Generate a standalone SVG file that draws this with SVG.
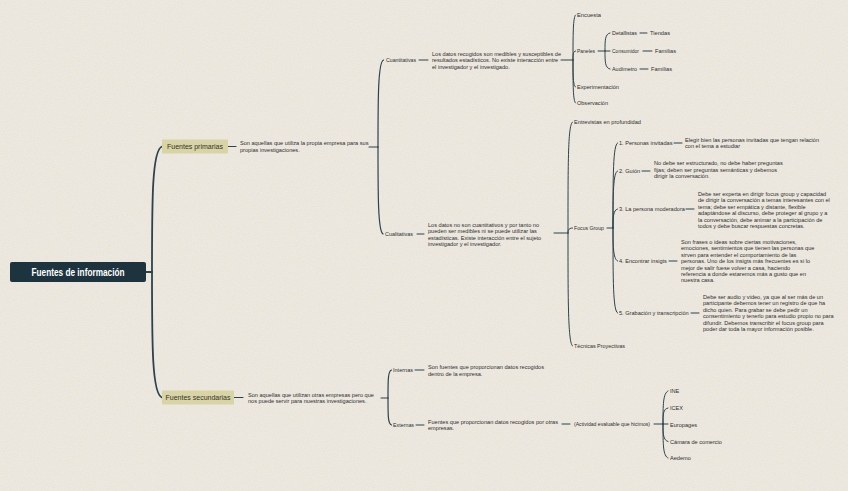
<svg xmlns="http://www.w3.org/2000/svg" width="848" height="491" viewBox="0 0 848 491">
<defs>
<filter id="paper" x="0" y="0" width="100%" height="100%">
<feTurbulence type="fractalNoise" baseFrequency="0.8" numOctaves="3" seed="7" result="n"/>
<feColorMatrix in="n" type="matrix" values="0 0 0 0 0.45  0 0 0 0 0.40  0 0 0 0 0.32  0.16 0 0 0 -0.02"/>
</filter>
<style>
.c{fill:none;stroke:#2c434d;stroke-linecap:round;stroke-width:1}
.c1{stroke-width:1.8}
.c2{stroke-width:1.2}
.t{font-family:"Liberation Sans",Arial,sans-serif;font-size:5.6px;fill:#2e2e2e}
.lab{font-family:"Liberation Sans",Arial,sans-serif;font-size:7px;fill:#33332a;text-anchor:middle}
.box{fill:#d9d4a6}
</style>
</defs>
<rect width="848" height="491" fill="#efebe2"/>
<rect width="848" height="491" filter="url(#paper)"/>

<g id="connectors">
<path class="c c1" d="M145 272 H152"/>
<path class="c c1" d="M152 272 C152 200 152 150 162 146.5"/>
<path class="c c1" d="M152 272 C152 345 152 394 162 397.5"/>
<path class="c c2" d="M228 146.5 H236"/>
<path class="c c2" d="M234 397.5 H243"/>
<path class="c c2" d="M369 147 H378"/>
<path class="c c2" d="M378 147 C378 100 378 62 383.5 60"/>
<path class="c c2" d="M378 147 C378 195 378 231 383 234"/>
<path class="c c2" d="M381 398 H388"/>
<path class="c c2" d="M388 398 C388 380 388 371 391.5 370"/>
<path class="c c2" d="M388 398 C388 416 388 424 391.5 425"/>
<path class="c" d="M419 60 H428"/>
<path class="c" d="M561 60 H573"/>
<path class="c" d="M573 60 C573 35 573 17 575.5 15"/>
<path class="c" d="M573 60 C573 55 573 51 575.5 51"/>
<path class="c" d="M573 60 C573 75 573 86 575.5 87"/>
<path class="c" d="M573 60 C573 85 573 101 575.5 103"/>
<path class="c" d="M598 51 H605"/>
<path class="c" d="M605 51 C605 40 605 34 610 33"/>
<path class="c" d="M605 51 H610"/>
<path class="c" d="M605 51 C605 62 605 68 610 69"/>
<path class="c" d="M640 33 H647"/>
<path class="c" d="M643 51 H652"/>
<path class="c" d="M640 69 H648"/>
<path class="c" d="M417 234 H424"/>
<path class="c" d="M554 233 H568"/>
<path class="c" d="M568 233 C568 160 568 124 572.5 122"/>
<path class="c" d="M568 233 C568 231 568 228 572.5 228"/>
<path class="c" d="M568 233 C568 300 568 344 572.5 346"/>
<path class="c" d="M607 228 H613"/>
<path class="c" d="M613 228 C613 175 613 145 617.5 143"/>
<path class="c" d="M613 228 C613 195 613 172 617.5 171"/>
<path class="c" d="M613 228 C613 218 613 210 617.5 209"/>
<path class="c" d="M613 228 C613 245 613 259 617.5 261"/>
<path class="c" d="M613 228 C613 280 613 311 617.5 313"/>
<path class="c" d="M674 143 H682"/>
<path class="c" d="M642 171 H650"/>
<path class="c" d="M686 209 H694"/>
<path class="c" d="M669 261 H677"/>
<path class="c" d="M691 313 H699"/>
<path class="c" d="M415 370 H424"/>
<path class="c" d="M416 425 H424"/>
<path class="c" d="M562 424 H570"/>
<path class="c" d="M654 424 H663"/>
<path class="c" d="M663 424 C663 405 663 393 668 391"/>
<path class="c" d="M663 424 C663 414 663 409 668 408"/>
<path class="c" d="M663 424 H668"/>
<path class="c" d="M663 424 C663 434 663 440 668 441.5"/>
<path class="c" d="M663 424 C663 445 663 456 668 458"/>
</g>

<g id="root">
<rect x="10" y="262" width="136" height="20" rx="2" fill="#1d333d"/>
<text x="78" y="275.5" text-anchor="middle" font-family="Liberation Sans,Arial,sans-serif" font-weight="bold" font-size="10" fill="#ffffff" textLength="93" lengthAdjust="spacingAndGlyphs">Fuentes de información</text>
</g>

<g id="primarias">
<rect class="box" x="162" y="139.5" width="66" height="14" rx="1"/>
<text class="lab" x="195" y="149">Fuentes primarias</text>
</g>
<g id="primarias-desc">
<text class="t" x="240" y="145">Son aquellas que utiliza la propia empresa para sus</text>
<text class="t" x="240" y="151.5">propias investigaciones.</text>
</g>

<g id="cuantitativas"><text class="t" x="386" y="62" textLength="30" lengthAdjust="spacingAndGlyphs">Cuantitativas</text></g>
<g id="cuantitativas-desc">
<text class="t" x="432" y="55.5">Los datos recogidos son medibles y susceptibles de</text>
<text class="t" x="432" y="62">resultados estadísticos. No existe interacción entre</text>
<text class="t" x="432" y="68.5">el investigador y el investigado.</text>
</g>
<g id="encuesta"><text class="t" x="577" y="17" textLength="24" lengthAdjust="spacingAndGlyphs">Encuesta</text></g>
<g id="paneles"><text class="t" x="577" y="53" textLength="18" lengthAdjust="spacingAndGlyphs">Paneles</text></g>
<g id="detallistas"><text class="t" x="612" y="35" textLength="25" lengthAdjust="spacingAndGlyphs">Detallistas</text></g>
<g id="tiendas"><text class="t" x="650" y="35" textLength="20" lengthAdjust="spacingAndGlyphs">Tiendas</text></g>
<g id="consumidor"><text class="t" x="612" y="53" textLength="27" lengthAdjust="spacingAndGlyphs">Consumidor</text></g>
<g id="familias1"><text class="t" x="655" y="53" textLength="21" lengthAdjust="spacingAndGlyphs">Familias</text></g>
<g id="audimetro"><text class="t" x="612" y="71" textLength="25" lengthAdjust="spacingAndGlyphs">Audímetro</text></g>
<g id="familias2"><text class="t" x="651" y="71" textLength="21" lengthAdjust="spacingAndGlyphs">Familias</text></g>
<g id="experimentacion"><text class="t" x="577" y="89" textLength="42" lengthAdjust="spacingAndGlyphs">Experimentación</text></g>
<g id="observacion"><text class="t" x="577" y="105" textLength="31" lengthAdjust="spacingAndGlyphs">Observación</text></g>

<g id="cualitativas"><text class="t" x="385" y="236" textLength="28" lengthAdjust="spacingAndGlyphs">Cualitativas</text></g>
<g id="cualitativas-desc">
<text class="t" x="428" y="226.5">Los datos no son cuantitativos y por tanto no</text>
<text class="t" x="428" y="233">pueden ser medibles ni se puede utilizar las</text>
<text class="t" x="428" y="239.5">estadísticas. Existe interacción entre el sujeto</text>
<text class="t" x="428" y="246">investigador y el investigador.</text>
</g>
<g id="entrevistas"><text class="t" x="574" y="124" textLength="67" lengthAdjust="spacingAndGlyphs">Entrevistas en profundidad</text></g>
<g id="focus"><text class="t" x="574" y="230" textLength="30" lengthAdjust="spacingAndGlyphs">Focus Group</text></g>
<g id="tecnicas"><text class="t" x="574" y="348" textLength="51" lengthAdjust="spacingAndGlyphs">Técnicas Proyectivas</text></g>

<g id="fg1"><text class="t" x="619" y="145">1. Personas invitadas</text></g>
<g id="fg1-desc">
<text class="t" x="685" y="141.5">Elegir bien las personas invitadas que tengan relación</text>
<text class="t" x="685" y="148">con el tema a estudiar</text>
</g>
<g id="fg2"><text class="t" x="619" y="173">2. Guión</text></g>
<g id="fg2-desc">
<text class="t" x="654" y="165">No debe ser estructurado, no debe haber preguntas</text>
<text class="t" x="654" y="171.5">fijas; deben ser preguntas semánticas y debemos</text>
<text class="t" x="654" y="178">dirigir la conversación.</text>
</g>
<g id="fg3"><text class="t" x="619" y="211">3. La persona moderadora</text></g>
<g id="fg3-desc">
<text class="t" x="698" y="196">Debe ser experta en dirigir focus group y capacidad</text>
<text class="t" x="698" y="202.4">de dirigir la conversación a temas interesantes con el</text>
<text class="t" x="698" y="208.8">tema; debe ser empática y distante, flexible</text>
<text class="t" x="698" y="215.2">adaptándose al discurso, debe proteger al grupo y a</text>
<text class="t" x="698" y="221.6">la conversación, debe animar a la participación de</text>
<text class="t" x="698" y="228">todos y debe buscar respuestas concretas.</text>
</g>
<g id="fg4"><text class="t" x="619" y="263">4. Encontrar insigts</text></g>
<g id="fg4-desc">
<text class="t" x="681" y="244">Son frases o ideas sobre ciertas motivaciones,</text>
<text class="t" x="681" y="250.4">emociones, sentimientos que tienen las personas que</text>
<text class="t" x="681" y="256.8">sirven para entender el comportamiento de las</text>
<text class="t" x="681" y="263.2">personas. Uno de los insigts más frecuentes es si lo</text>
<text class="t" x="681" y="269.6">mejor de salir fuese volver a casa, haciendo</text>
<text class="t" x="681" y="276">referencia a donde estaremos más a gusto que en</text>
<text class="t" x="681" y="282.4">nuestra casa.</text>
</g>
<g id="fg5"><text class="t" x="619" y="315">5. Grabación y transcripción</text></g>
<g id="fg5-desc">
<text class="t" x="703" y="299">Debe ser audio y video, ya que al ser más de un</text>
<text class="t" x="703" y="305.4">participante debemos tener un registro de que ha</text>
<text class="t" x="703" y="311.8">dicho quien. Para grabar se debe pedir un</text>
<text class="t" x="703" y="318.2">consentimiento y tenerlo para estudio propio no para</text>
<text class="t" x="703" y="324.6">difundir. Debemos transcribir el focus group para</text>
<text class="t" x="703" y="331">poder dar toda la mayor información posible.</text>
</g>

<g id="secundarias">
<rect class="box" x="162" y="390.5" width="72" height="14" rx="1"/>
<text class="lab" x="198" y="400.2">Fuentes secundarias</text>
</g>
<g id="secundarias-desc">
<text class="t" x="248" y="396.5">Son aquellas que utilizan otras empresas pero que</text>
<text class="t" x="248" y="403">nos puede servir para nuestras investigaciones.</text>
</g>
<g id="internas"><text class="t" x="393" y="372" textLength="20" lengthAdjust="spacingAndGlyphs">Internas</text></g>
<g id="internas-desc">
<text class="t" x="428" y="369">Son fuentes que proporcionan datos recogidos</text>
<text class="t" x="428" y="375.5">dentro de la empresa.</text>
</g>
<g id="externas"><text class="t" x="393" y="427" textLength="21" lengthAdjust="spacingAndGlyphs">Externas</text></g>
<g id="externas-desc">
<text class="t" x="428" y="423.5">Fuentes que proporcionan datos recogidos por otras</text>
<text class="t" x="428" y="430">empresas.</text>
</g>
<g id="actividad"><text class="t" x="574" y="426" textLength="76" lengthAdjust="spacingAndGlyphs">(Actividad evaluable que hicimos)</text></g>
<g id="ine"><text class="t" x="670" y="393">INE</text></g>
<g id="icex"><text class="t" x="670" y="410">ICEX</text></g>
<g id="europages"><text class="t" x="670" y="426.5">Europages</text></g>
<g id="camara"><text class="t" x="670" y="443.5">Cámara de comercio</text></g>
<g id="aedemo"><text class="t" x="670" y="460">Aedemo</text></g>
</svg>
